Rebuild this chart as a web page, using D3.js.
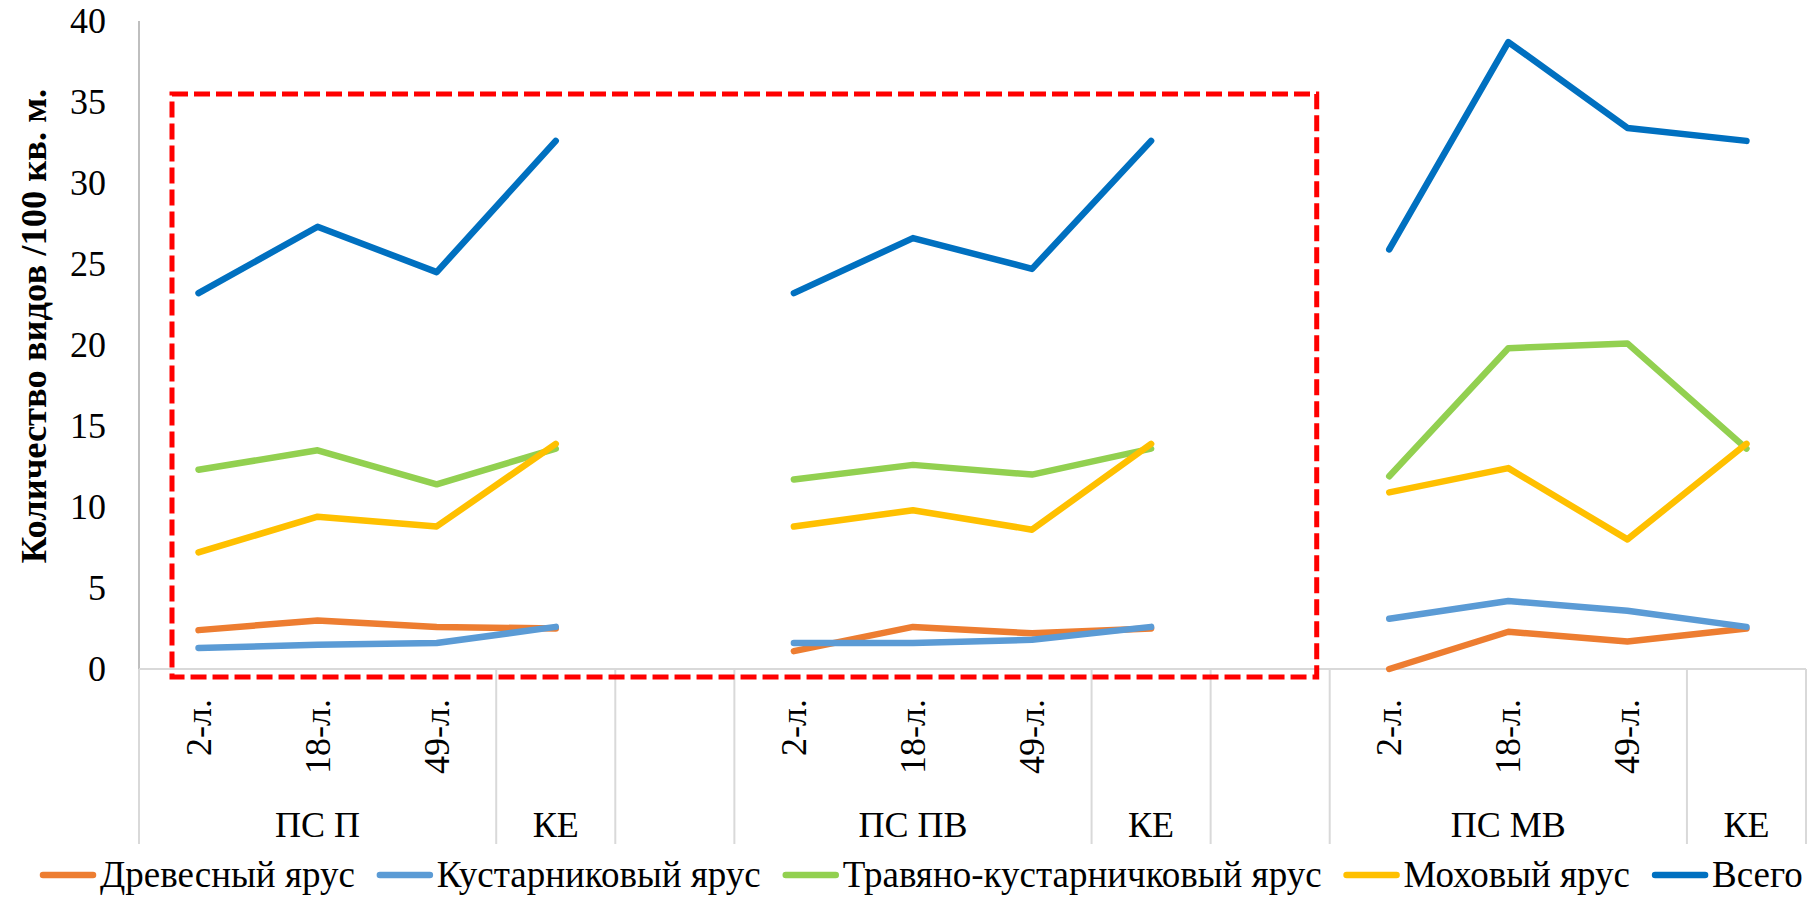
<!DOCTYPE html>
<html>
<head>
<meta charset="utf-8">
<script src="https://cdn.jsdelivr.net/npm/d3@7"></script>
<style>
  html, body { margin: 0; padding: 0; background: #fff; }
  svg { display: block; }
</style>
</head>
<body>
<svg id="chart" width="1815" height="899"></svg>
<script>
// ---- data ----
const innerLabels = ["2-л.", "18-л.", "49-л.", "", "", "2-л.", "18-л.", "49-л.", "", "", "2-л.", "18-л.", "49-л.", ""];
const outerLabels = ["ПС П", "ПС П", "ПС П", "КЕ", "", "ПС ПВ", "ПС ПВ", "ПС ПВ", "КЕ", "", "ПС МВ", "ПС МВ", "ПС МВ", "КЕ"];
const yTicks = [0, 5, 10, 15, 20, 25, 30, 35, 40];

const seriesNames = ["Древесный ярус", "Кустарниковый ярус", "Травяно-кустарничковый ярус", "Моховый ярус", "Всего"];
const seriesColors = ["#ED7D31", "#5B9BD5", "#92D050", "#FFC000", "#0070C0"];

const drevesny   = [2.4, 3.0, 2.6, 2.5, null, 1.1, 2.6, 2.2, 2.5, null, 0.0, 2.3, 1.7, 2.5];
const kustarnik  = [1.3, 1.5, 1.6, 2.6, null, 1.6, 1.6, 1.8, 2.6, null, 3.1, 4.2, 3.6, 2.6];
const travyano   = [12.3, 13.5, 11.4, 13.6, null, 11.7, 12.6, 12.0, 13.6, null, 11.9, 19.8, 20.1, 13.6];
const mokhovy    = [7.2, 9.4, 8.8, 13.9, null, 8.8, 9.8, 8.6, 13.9, null, 10.9, 12.4, 8.0, 13.9];
const vsego      = [23.2, 27.3, 24.5, 32.6, null, 23.2, 26.6, 24.7, 32.6, null, 25.9, 38.7, 33.4, 32.6];
const seriesValues = [drevesny, kustarnik, travyano, mokhovy, vsego];

const yTitle = "Количество видов /100 кв. м.";

// ---- layout ----
const FF = "'Liberation Serif'";
const svg = d3.select("#chart");
const plot = { left: 139, right: 1806, top: 21, bottom: 669 };
const FONT = 36;
const LEGEND_FONT = 37;

const idx = d3.range(innerLabels.length);
const x = d3.scaleBand().domain(idx).range([plot.left, plot.right]).padding(0);
const xc = i => x(i) + x.bandwidth() / 2;
const y = d3.scaleLinear().domain([0, 40]).range([plot.bottom, plot.top]);

// y axis line
svg.append("line")
  .attr("x1", plot.left).attr("x2", plot.left)
  .attr("y1", plot.top).attr("y2", plot.bottom)
  .attr("stroke", "#BFBFBF").attr("stroke-width", 2);

// y tick labels
svg.append("g").selectAll("text").data(yTicks).join("text")
  .attr("font-family", FF)
  .attr("x", 106).attr("y", d => y(d))
  .attr("dy", "0.34em")
  .attr("text-anchor", "end")
  .attr("font-size", FONT)
  .text(d => d);

// y title
svg.append("text")
  .attr("font-family", FF)
  .attr("transform", `translate(46, 326) rotate(-90)`)
  .attr("text-anchor", "middle")
  .attr("font-size", 36.5)
  .attr("font-weight", "bold")
  .text(yTitle);

// x axis line
svg.append("line")
  .attr("x1", plot.left).attr("x2", plot.right)
  .attr("y1", plot.bottom).attr("y2", plot.bottom)
  .attr("stroke", "#D9D9D9").attr("stroke-width", 2);

// group boundaries from outer labels
const groups = [];
outerLabels.forEach((g, i) => {
  const last = groups[groups.length - 1];
  if (last && last.name === g && g !== "") last.end = i;
  else groups.push({ name: g, start: i, end: i });
});
const bounds = [groups[0].start].concat(groups.map(g => g.end + 1));
svg.append("g").selectAll("line").data(bounds).join("line")
  .attr("x1", b => b < idx.length ? x(b) : plot.right)
  .attr("x2", b => b < idx.length ? x(b) : plot.right)
  .attr("y1", plot.bottom).attr("y2", 844)
  .attr("stroke", "#D9D9D9").attr("stroke-width", 2);

// inner labels (rotated)
svg.append("g").selectAll("text").data(idx.filter(i => innerLabels[i] !== "")).join("text")
  .attr("font-family", FF)
  .attr("transform", i => `translate(${xc(i) + 12}, 699) rotate(-90)`)
  .attr("text-anchor", "end")
  .attr("font-size", FONT)
  .text(i => innerLabels[i]);

// outer labels
svg.append("g").selectAll("text").data(groups.filter(g => g.name !== "")).join("text")
  .attr("font-family", FF)
  .attr("x", g => (x(g.start) + x(g.end) + x.bandwidth()) / 2)
  .attr("y", 837)
  .attr("text-anchor", "middle")
  .attr("font-size", FONT)
  .text(g => g.name);

// series lines
const line = d3.line()
  .defined(d => d.v !== null)
  .x(d => xc(d.i))
  .y(d => y(d.v));

seriesValues.forEach((vals, s) => {
  svg.append("path")
    .datum(vals.map((v, i) => ({ i, v })))
    .attr("d", line)
    .attr("fill", "none")
    .attr("stroke", seriesColors[s])
    .attr("stroke-width", 6.5)
    .attr("stroke-linecap", "round")
    .attr("stroke-linejoin", "round");
});

// red dashed highlight rectangle (around first two groups)
const rx0 = x(0) + 33, rx1 = x(10) - 13, ry0 = y(35.5), ry1 = plot.bottom + 8;
svg.append("rect")
  .attr("x", rx0).attr("y", ry0)
  .attr("width", rx1 - rx0)
  .attr("height", ry1 - ry0)
  .attr("fill", "none")
  .attr("stroke", "#FF0000")
  .attr("stroke-width", 5)
  .attr("stroke-dasharray", "16,6");

// legend
const legend = svg.append("g");
let lx = 40;
const ly = 875;
seriesNames.forEach((name, s) => {
  legend.append("line")
    .attr("x1", lx + 3).attr("x2", lx + 53)
    .attr("y1", ly).attr("y2", ly)
    .attr("stroke", seriesColors[s]).attr("stroke-width", 6.5)
    .attr("stroke-linecap", "round");
  const t = legend.append("text")
    .attr("font-family", FF)
    .attr("x", lx + 60).attr("y", ly + 12)
    .attr("font-size", LEGEND_FONT)
    .text(name);
  lx += 60 + t.node().getComputedTextLength() + 22;
});
</script>
</body>
</html>
